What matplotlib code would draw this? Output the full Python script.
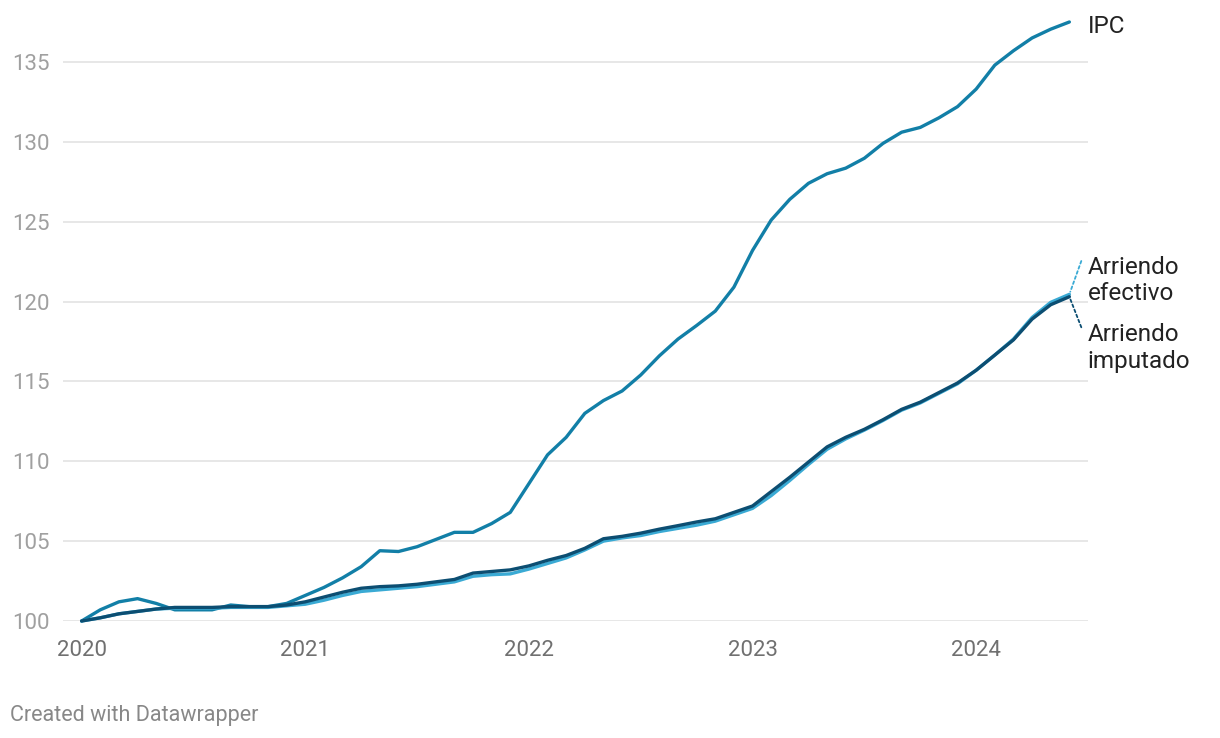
import matplotlib
matplotlib.use('Agg')
import matplotlib.pyplot as plt

plt.rcParams['font.family'] = ['Roboto', 'DejaVu Sans']

# meses desde enero 2020 hasta junio 2024 (índice base 100 = ene 2020)
ipc = [100.0, 100.7, 101.2, 101.4, 101.1, 100.7, 100.7, 100.7, 101.0, 100.9, 100.9, 101.1,
       101.6, 102.1, 102.7, 103.4, 104.4, 104.35, 104.65, 105.1, 105.55, 105.55, 106.1, 106.8,
       108.6, 110.4, 111.5, 113.0, 113.8, 114.4, 115.4, 116.6, 117.65, 118.5, 119.4, 120.9,
       123.2, 125.1, 126.4, 127.4, 128.0, 128.35, 128.97, 129.9, 130.6, 130.9, 131.5, 132.2,
       133.3, 134.8, 135.7, 136.5, 137.05, 137.5]
arriendo_efectivo = [100.0, 100.2, 100.45, 100.6, 100.75, 100.8, 100.8, 100.8, 100.85, 100.85, 100.85, 100.95,
                     101.05, 101.3, 101.6, 101.85, 101.95, 102.05, 102.15, 102.3, 102.45, 102.8, 102.9, 102.95,
                     103.25, 103.6, 103.95, 104.45, 105.0, 105.2, 105.35, 105.6, 105.8, 106.0, 106.25, 106.65,
                     107.05, 107.85, 108.8, 109.8, 110.75, 111.4, 111.95, 112.55, 113.2, 113.65, 114.25, 114.85,
                     115.7, 116.65, 117.65, 119.0, 119.95, 120.45]
arriendo_imputado = [100.0, 100.2, 100.45, 100.6, 100.75, 100.85, 100.85, 100.85, 100.9, 100.9, 100.9, 101.0,
                     101.2, 101.5, 101.8, 102.05, 102.15, 102.2, 102.3, 102.45, 102.6, 103.0, 103.1, 103.2,
                     103.45, 103.8, 104.1, 104.55, 105.15, 105.3, 105.5, 105.75, 105.97, 106.2, 106.4, 106.8,
                     107.2, 108.1, 109.0, 109.95, 110.9, 111.5, 112.0, 112.6, 113.25, 113.7, 114.3, 114.9,
                     115.7, 116.65, 117.6, 118.9, 119.8, 120.3]
meses = list(range(len(ipc)))
year_ticks = [0, 12, 24, 36, 48]
year_labels = ['2020', '2021', '2022', '2023', '2024']
y_ticks = [100, 105, 110, 115, 120, 125, 130, 135]

c_ipc = '#127fa7'
c_efe = '#3aaad4'
c_imp = '#0c4e72'

fig = plt.figure(figsize=(12.2, 7.38), dpi=100)
ax = fig.add_axes([63/1220, 117/738, 1025/1220, 607/738])

ax.plot(meses, ipc, color=c_ipc, lw=2.4, solid_capstyle='round', clip_on=False, zorder=3)
ax.plot(meses, arriendo_efectivo, color=c_efe, lw=2.4, solid_capstyle='round', clip_on=False, zorder=3)
ax.plot(meses, arriendo_imputado, color=c_imp, lw=2.4, solid_capstyle='round', clip_on=False, zorder=4)

ax.set_xlim(-1, 54)
ax.set_ylim(100, 138)
ax.set_yticks(y_ticks)
ax.set_xticks(year_ticks)
ax.set_xticklabels(year_labels)
ax.grid(axis='y', color='#e0e0e0', lw=1.1)
ax.set_axisbelow(True)
for s in ax.spines.values():
    s.set_visible(False)
ax.tick_params(axis='y', length=0, pad=9.5, labelsize=16, labelcolor='#a0a0a0')
ax.tick_params(axis='x', length=0, pad=13.5, labelsize=16, labelcolor='#707070')

# etiquetas de las series
last = meses[-1]
lbl = dict(textcoords='offset points', ha='left', va='center', fontsize=17.5,
           color='#222222', linespacing=1.2, annotation_clip=False)
ax.annotate('IPC', xy=(last, ipc[-1]), xytext=(13, -3), **lbl)
ax.annotate('Arriendo\nefectivo', xy=(last, arriendo_efectivo[-1]), xytext=(13, 10), **lbl)
ax.annotate('Arriendo\nimputado', xy=(last, arriendo_imputado[-1]), xytext=(13, -37), **lbl)

# conectores punteados
ax.annotate('', xy=(last, arriendo_efectivo[-1]), xytext=(8.6, 24), textcoords='offset points',
            arrowprops=dict(arrowstyle='-', color=c_efe, lw=1.3, ls=(0, (1.5, 1.5)),
                            shrinkA=0, shrinkB=2), annotation_clip=False)
ax.annotate('', xy=(last, arriendo_imputado[-1]), xytext=(8.6, -22), textcoords='offset points',
            arrowprops=dict(arrowstyle='-', color=c_imp, lw=1.3, ls=(0, (1.5, 1.5)),
                            shrinkA=0, shrinkB=2), annotation_clip=False)

fig.text(10/1220, 1 - 715/738, 'Created with Datawrapper', fontsize=15.5, color='#888888',
         ha='left', va='center')

fig.savefig('out.png', dpi=100)
